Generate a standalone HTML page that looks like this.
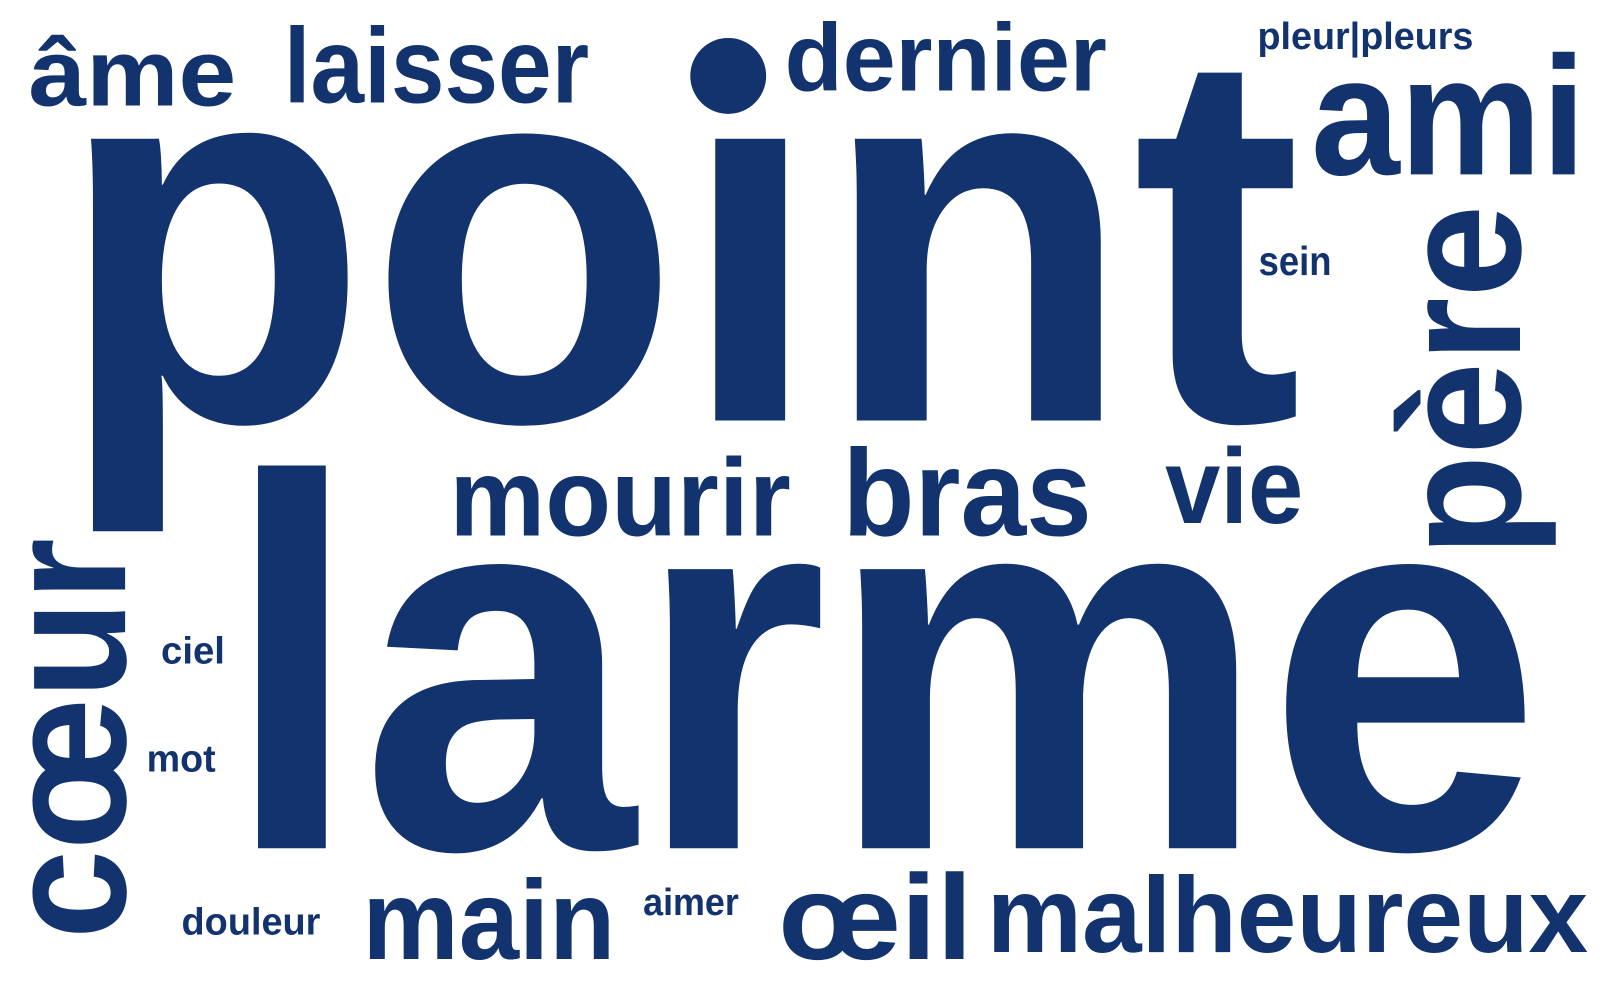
<!DOCTYPE html>
<html><head><meta charset="utf-8">
<style>
html,body{margin:0;padding:0;background:#fff;}
svg{display:block;}
text{font-family:"Liberation Sans",sans-serif;font-weight:bold;fill:#12336e;}
</style></head>
<body>
<svg id="cloud" width="1600" height="1000" viewBox="0 0 1560 975" preserveAspectRatio="none" xmlns="http://www.w3.org/2000/svg">
<defs>
<clipPath id="noDot" clipPathUnits="userSpaceOnUse">
<path clip-rule="evenodd" d="M0 0H1560V975H0Z M688 0H768V122H688Z"/>
</clipPath>
</defs>
<rect width="1560" height="975" fill="#fff"/>
</svg>
<script>
// word data
const words = ["point","larme","âme","laisser","dernier","pleur|pleurs","ami","sein","père","cœur","mourir","bras","vie","ciel","mot","douleur","main","aimer","œil","malheureux"];
const fontSizes = [520,515,92,104,93,37,165,40,168,168,108,120,104,37,37,37,110,37,118,105];
// layout (ink start x, baseline y, ink length, rotation)
const layoutX = [87,248,30,283,768,1228,1282,1228,1482,122,445,828,1136,158,145,178,360,628,763,968];
const layoutY = [410,827,103,100,88,48,170,268,532,910,522,522,510,647,752,911,935,892,935,928];
const layoutLen = [1180,1243,198,290,310,208,254,68,327,383,325,232,132,59,65,134,234,92,177,580];
const layoutRot = [0,0,0,0,0,0,0,0,-90,-90,0,0,0,0,0,0,0,0,0,0];

const NS = 'http://www.w3.org/2000/svg';
const svg = document.getElementById('cloud');
const ctx = document.createElement('canvas').getContext('2d');
for (let i = 0; i < words.length; i++) {
  ctx.font = 'bold ' + fontSizes[i] + 'px "Liberation Sans", sans-serif';
  const m = ctx.measureText(words[i]);
  const inkLeft = -m.actualBoundingBoxLeft;
  const inkW = m.actualBoundingBoxRight + m.actualBoundingBoxLeft;
  const s = layoutLen[i] / inkW;
  const t = document.createElementNS(NS,'text');
  
  
  t.setAttribute('x', -inkLeft * s);
  t.setAttribute('y', 0);
  t.setAttribute('font-size', fontSizes[i]);
  t.setAttribute('textLength', m.width * s);
  t.setAttribute('lengthAdjust', 'spacingAndGlyphs');
  t.setAttribute('transform', 'translate(' + layoutX[i] + ' ' + layoutY[i] + ') rotate(' + layoutRot[i] + ')');
  t.textContent = words[i];
  if (i === 0) {
    const g = document.createElementNS(NS,'g');
    
    
    g.setAttribute('clip-path', 'url(#noDot)');
    g.appendChild(t);
    svg.appendChild(g);
  } else {
    svg.appendChild(t);
  }
}
const dot = document.createElementNS(NS,'circle');


dot.setAttribute('cx', 710);
dot.setAttribute('cy', 74);
dot.setAttribute('r', 37);
dot.setAttribute('fill', '#12336e');
svg.appendChild(dot);
</script>
</body></html>
